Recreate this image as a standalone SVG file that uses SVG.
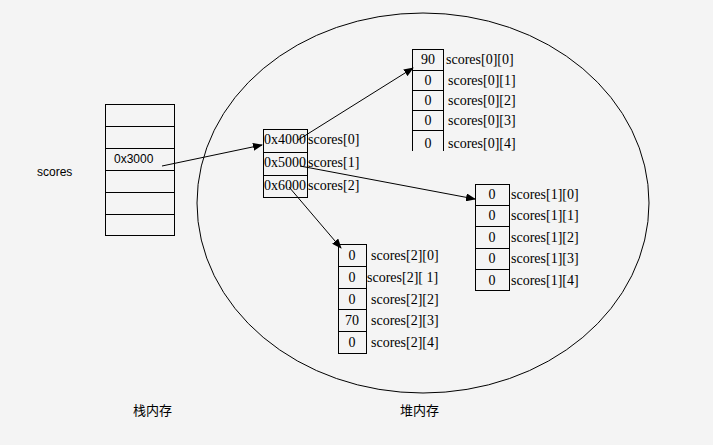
<svg xmlns="http://www.w3.org/2000/svg" width="713" height="445" viewBox="0 0 713 445">
<style>
.bx{fill:none;stroke:#000;stroke-width:1}
.t{font-family:"Liberation Serif","Times New Roman",serif;font-size:14px;fill:#000}
.s{font-family:"Liberation Sans",Arial,sans-serif;font-size:12px;fill:#000}
.c{font-family:"Noto Sans CJK SC","Liberation Sans",sans-serif;font-size:13px;fill:#000}
.ln{stroke:#000;stroke-width:1;fill:none;marker-end:url(#ah)}
</style>
<defs>
<marker id="ah" markerWidth="10" markerHeight="8" refX="9" refY="4" orient="auto" markerUnits="userSpaceOnUse">
<path d="M0,0 L10,4 L0,8 Z" fill="#000"/>
</marker>
<clipPath id="cp0"><rect x="400" y="40" width="140" height="111"/></clipPath>
</defs>
<rect width="713" height="445" fill="#f4f4f4"/>
<ellipse cx="423" cy="203" rx="226" ry="190" fill="none" stroke="#000" stroke-width="1"/>
<g id="stack">
<rect class="bx" x="105.5" y="104.5" width="69" height="131"/>
<path class="bx" d="M105.5,126.5H174.5M105.5,148.5H174.5M105.5,170.5H174.5M105.5,192.5H174.5M105.5,214.5H174.5"/>
<text class="s" x="114" y="163">0x3000</text>
</g>
<text class="s" x="37" y="176">scores</text>
<g id="pointers">
<rect class="bx" x="263.5" y="129.5" width="44" height="68"/>
<path class="bx" d="M263.5,152.5H307.5M263.5,175.5H307.5"/>
<text class="t" x="264" y="144">0x4000</text>
<text class="t" x="264" y="167">0x5000</text>
<text class="t" x="264" y="190">0x6000</text>
<text class="t" x="308" y="144">scores[0]</text>
<text class="t" x="308" y="167">scores[1]</text>
<text class="t" x="308" y="190">scores[2]</text>
</g>
<g id="arr0" clip-path="url(#cp0)">
<rect class="bx" x="412.5" y="49.5" width="31" height="104"/>
<path class="bx" d="M412.5,70.5H443.5M412.5,90.5H443.5M412.5,110.5H443.5M412.5,130.5H443.5"/>
<text class="t" x="428" y="64" text-anchor="middle">90</text>
<text class="t" x="428" y="85" text-anchor="middle">0</text>
<text class="t" x="428" y="105" text-anchor="middle">0</text>
<text class="t" x="428" y="125" text-anchor="middle">0</text>
<text class="t" x="428" y="148" text-anchor="middle">0</text>
<text class="t" x="446" y="64">scores[0][0]</text>
<text class="t" x="448" y="85">scores[0][1]</text>
<text class="t" x="448" y="105">scores[0][2]</text>
<text class="t" x="448" y="125">scores[0][3]</text>
<text class="t" x="448" y="148">scores[0][4]</text>
</g>
<g id="arr1">
<rect class="bx" x="475.5" y="184.5" width="34" height="106"/>
<path class="bx" d="M475.5,205.5H509.5M475.5,226.5H509.5M475.5,248.5H509.5M475.5,269.5H509.5"/>
<text class="t" x="492" y="199" text-anchor="middle">0</text>
<text class="t" x="492" y="220" text-anchor="middle">0</text>
<text class="t" x="492" y="242" text-anchor="middle">0</text>
<text class="t" x="492" y="263" text-anchor="middle">0</text>
<text class="t" x="492" y="285" text-anchor="middle">0</text>
<text class="t" x="511" y="199">scores[1][0]</text>
<text class="t" x="511" y="220">scores[1][1]</text>
<text class="t" x="511" y="242">scores[1][2]</text>
<text class="t" x="511" y="263">scores[1][3]</text>
<text class="t" x="511" y="285">scores[1][4]</text>
</g>
<g id="arr2">
<rect class="bx" x="338.5" y="244.5" width="28" height="109"/>
<path class="bx" d="M338.5,266.5H366.5M338.5,288.5H366.5M338.5,309.5H366.5M338.5,331.5H366.5"/>
<text class="t" x="352" y="260" text-anchor="middle">0</text>
<text class="t" x="352" y="282" text-anchor="middle">0</text>
<text class="t" x="352" y="304" text-anchor="middle">0</text>
<text class="t" x="352" y="325" text-anchor="middle">70</text>
<text class="t" x="352" y="347" text-anchor="middle">0</text>
<text class="t" x="371" y="260">scores[2][0]</text>
<text class="t" x="367" y="282">scores[2][ 1]</text>
<text class="t" x="371" y="304">scores[2][2]</text>
<text class="t" x="371" y="325">scores[2][3]</text>
<text class="t" x="371" y="347">scores[2][4]</text>
</g>
<g id="connectors">
<line class="ln" x1="162" y1="166" x2="262" y2="145"/>
<line class="ln" x1="298" y1="140" x2="413" y2="68"/>
<line class="ln" x1="300" y1="166" x2="475" y2="199"/>
<line class="ln" x1="289" y1="187" x2="341" y2="248"/>
</g>
<text class="c" x="133" y="415">栈内存</text>
<text class="c" x="400" y="415">堆内存</text>
</svg>
